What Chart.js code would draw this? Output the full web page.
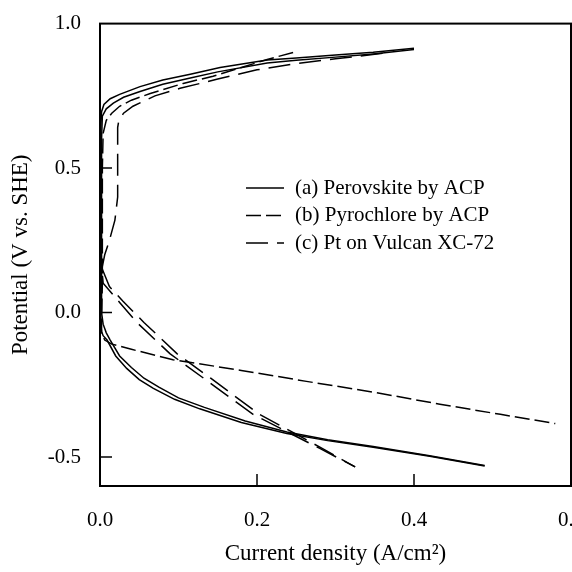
<!DOCTYPE html>
<html>
<head>
<meta charset="utf-8">
<script src="https://cdn.jsdelivr.net/npm/chart.js@4/dist/chart.umd.min.js"></script>
<style>
  html, body { margin: 0; padding: 0; background: #fff; overflow: hidden; }
  #wrap { width: 572px; height: 572px; overflow: hidden; }
  #box { width: 620px; height: 572px; }
</style>
</head>
<body>
<div id="wrap"><div id="box"><canvas id="chart"></canvas></div></div>
<script>
// current density (A/cm2) vs potential (V vs. SHE)
// (a) Perovskite by ACP, two runs
const aCur1 = [0.400, 0.348, 0.300, 0.250, 0.213, 0.153, 0.115, 0.080, 0.051, 0.025, 0.013, 0.005, 0.002, 0.001, 0.001, 0.001, 0.001, 0.002, 0.004, 0.009, 0.020, 0.034, 0.050, 0.068, 0.095, 0.127, 0.180, 0.238, 0.290, 0.348, 0.420, 0.490];
const aPot1 = [0.915, 0.901, 0.891, 0.881, 0.874, 0.848, 0.825, 0.805, 0.782, 0.755, 0.740, 0.720, 0.695, 0.640, 0.300, 0.000, -0.040, -0.065, -0.080, -0.095, -0.150, -0.193, -0.232, -0.262, -0.300, -0.333, -0.380, -0.418, -0.443, -0.466, -0.497, -0.531];
const aCur2 = [0.400, 0.348, 0.300, 0.250, 0.213, 0.150, 0.115, 0.080, 0.051, 0.030, 0.017, 0.008, 0.003, 0.002, 0.002, 0.002, 0.004, 0.008, 0.013, 0.025, 0.040, 0.056, 0.075, 0.100, 0.133, 0.185, 0.238, 0.290, 0.348, 0.420, 0.490];
const aPot2 = [0.910, 0.895, 0.884, 0.873, 0.864, 0.833, 0.812, 0.790, 0.765, 0.745, 0.725, 0.705, 0.680, 0.600, 0.300, 0.000, -0.040, -0.070, -0.095, -0.150, -0.190, -0.227, -0.258, -0.295, -0.328, -0.375, -0.413, -0.440, -0.463, -0.495, -0.529];
// (b) Pyrochlore by ACP
const bCur = [0.246, 0.213, 0.180, 0.144, 0.106, 0.064, 0.040, 0.025, 0.015, 0.008, 0.004, 0.003, 0.003, 0.003, 0.002, 0.002, 0.006, 0.015, 0.040, 0.093, 0.180, 0.263, 0.350, 0.433, 0.510, 0.580];
const bPot = [0.900, 0.876, 0.848, 0.818, 0.793, 0.758, 0.735, 0.714, 0.690, 0.665, 0.620, 0.500, 0.300, 0.100, -0.020, -0.070, -0.095, -0.109, -0.127, -0.163, -0.200, -0.238, -0.276, -0.317, -0.352, -0.384];
// (c) Pt on Vulcan XC-72, two runs
const cCur1 = [0.360, 0.300, 0.250, 0.200, 0.150, 0.102, 0.070, 0.042, 0.030, 0.024, 0.0225, 0.0225, 0.0225, 0.019, 0.012, 0.006, 0.003, 0.003, 0.004, 0.025, 0.047, 0.089, 0.132, 0.195, 0.238, 0.280, 0.325];
const cPot1 = [0.897, 0.878, 0.862, 0.840, 0.808, 0.776, 0.750, 0.714, 0.690, 0.665, 0.640, 0.500, 0.400, 0.320, 0.250, 0.200, 0.160, 0.130, 0.102, 0.035, -0.034, -0.142, -0.227, -0.352, -0.412, -0.470, -0.534];
const cCur2 = [0.003, 0.012, 0.029, 0.056, 0.098, 0.141, 0.203, 0.244, 0.283, 0.325];
const cPot2 = [0.150, 0.090, 0.040, -0.034, -0.142, -0.227, -0.352, -0.412, -0.470, -0.534];

const legendLabels = ['(a) Perovskite by ACP', '(b) Pyrochlore by ACP', '(c) Pt on Vulcan XC-72'];
const xTicks = [0, 0.2, 0.4, 0.6];
const xTickLabels = ['0.0', '0.2', '0.4', '0.6'];
const yTicks = [-0.5, 0, 0.5, 1.0];
const yTickLabels = ['-0.5', '0.0', '0.5', '1.0'];

const FONT = '"Liberation Serif", "Times New Roman", serif';
const dashB = [15, 5];
const dashC = [22, 9];

function pts(xs, ys) {
  return xs.map((x, i) => ({ x: x, y: ys[i] }));
}

function line(label, xs, ys, dash) {
  return {
    label: label,
    data: pts(xs, ys),
    showLine: true,
    borderColor: '#000',
    borderWidth: 1.5,
    borderDash: dash,
    pointRadius: 0,
    tension: 0,
    fill: false
  };
}

// legend inside the plot, plus the frame and inward tick marks
const frame = {
  id: 'frame',
  afterDraw(chart) {
    const { ctx, chartArea: a, scales: { x, y } } = chart;
    ctx.save();
    ctx.strokeStyle = '#000';
    ctx.lineWidth = 2;
    ctx.strokeRect(a.left, a.top, a.right - a.left, a.bottom - a.top);
    ctx.lineWidth = 1.5;
    ctx.beginPath();
    [0.2, 0.4].forEach(v => {
      const px = x.getPixelForValue(v);
      ctx.moveTo(px, a.bottom);
      ctx.lineTo(px, a.bottom - 12);
    });
    [-0.5, 0, 0.5].forEach(v => {
      const py = y.getPixelForValue(v);
      ctx.moveTo(a.left, py);
      ctx.lineTo(a.left + 12, py);
    });
    ctx.stroke();

    ctx.font = '21px ' + FONT;
    ctx.textBaseline = 'middle';
    ctx.fillStyle = '#000';
    const dashes = [[], dashB, dashC];
    legendLabels.forEach((t, i) => {
      const ly = 188 + i * 27.5;
      ctx.setLineDash(dashes[i]);
      ctx.beginPath();
      ctx.moveTo(246, ly);
      ctx.lineTo(284, ly);
      ctx.stroke();
      ctx.setLineDash([]);
      ctx.fillText(t, 295, ly);
    });
    ctx.restore();
  }
};

new Chart(document.getElementById('chart'), {
  type: 'scatter',
  data: {
    datasets: [
      line(legendLabels[0], aCur1, aPot1, []),
      line(legendLabels[0], aCur2, aPot2, []),
      line(legendLabels[1], bCur, bPot, dashB),
      line(legendLabels[2], cCur1, cPot1, dashC),
      line(legendLabels[2], cCur2, cPot2, dashC)
    ]
  },
  options: {
    responsive: true,
    maintainAspectRatio: false,
    animation: false,
    layout: { padding: { left: 0, top: 16, right: 49, bottom: 0 } },
    plugins: { legend: { display: false }, tooltip: { enabled: false } },
    scales: {
      x: {
        type: 'linear',
        min: 0,
        max: 0.6,
        afterBuildTicks: s => { s.ticks = xTicks.map(v => ({ value: v })); },
        afterFit: s => { s.height = 86; },
        grid: { display: false },
        border: { display: false },
        ticks: {
          autoSkip: false,
          maxRotation: 0,
          padding: 14,
          color: '#000',
          font: { family: FONT, size: 21 },
          callback: (v, i) => xTickLabels[i]
        },
        title: {
          display: true,
          text: 'Current density (A/cm\u00B2)',
          color: '#000',
          font: { family: FONT, size: 23 },
          padding: { top: 0, bottom: 4 }
        }
      },
      y: {
        type: 'linear',
        min: -0.6,
        max: 1.0,
        afterBuildTicks: s => { s.ticks = yTicks.map(v => ({ value: v })); },
        afterFit: s => { s.width = 100; },
        grid: { display: false },
        border: { display: false },
        ticks: {
          padding: 11,
          color: '#000',
          font: { family: FONT, size: 21 },
          callback: (v, i) => yTickLabels[i]
        },
        title: {
          display: true,
          text: 'Potential (V vs. SHE)',
          color: '#000',
          font: { family: FONT, size: 23 },
          padding: { top: 7, bottom: 0 }
        }
      }
    }
  },
  plugins: [frame]
});
</script>
</body>
</html>
